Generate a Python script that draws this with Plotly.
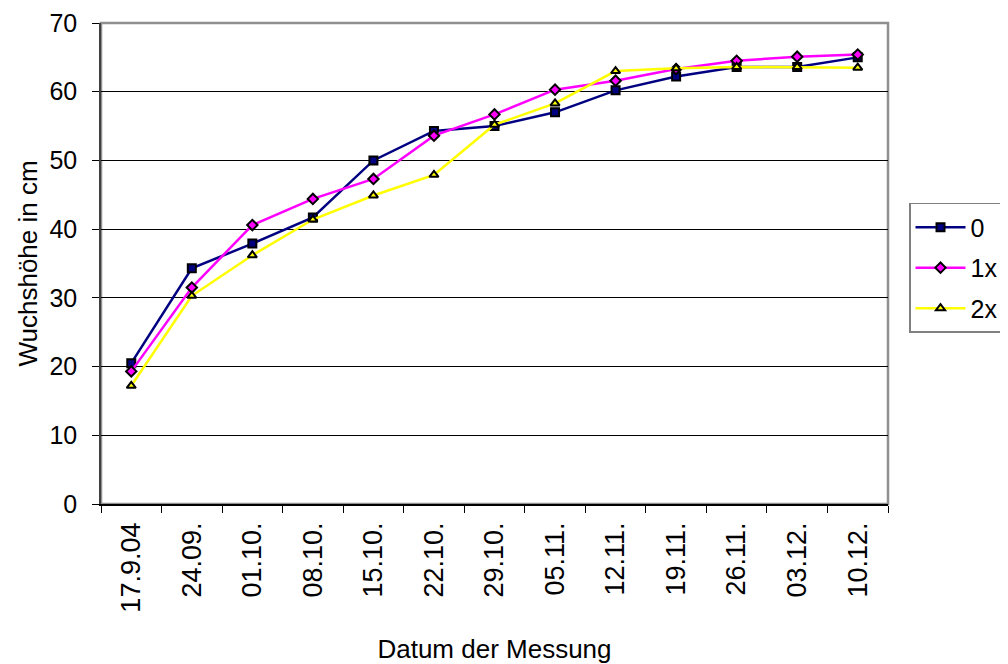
import plotly.graph_objects as go

# Messtermine
dates = ['17.9.04', '24.09.', '01.10.', '08.10.', '15.10.', '22.10.', '29.10.',
         '05.11.', '12.11.', '19.11.', '26.11.', '03.12.', '10.12.']

# Wuchshöhe in cm je Variante
h_0 = [20.5, 34.3, 37.9, 41.7, 50.0, 54.3, 55.0, 57.0, 60.2, 62.2, 63.6, 63.6, 65.0]
h_1x = [19.3, 31.5, 40.6, 44.4, 47.3, 53.6, 56.7, 60.3, 61.6, 63.3, 64.5, 65.1, 65.4]
h_2x = [17.2, 30.3, 36.2, 41.4, 44.9, 47.9, 55.2, 58.3, 63.0, 63.4, 63.6, 63.6, 63.5]

series = [
    ('0', h_0, '#000080', 'square', 8),
    ('1x', h_1x, '#FF00FF', 'diamond', 8),
    ('2x', h_2x, '#FFFF00', 'triangle-up', 8),
]

fig = go.Figure()
for name, vals, col, sym, size in series:
    fig.add_trace(go.Scatter(
        x=dates, y=vals, name=name, mode='lines+markers',
        legendgroup=name,
        line=dict(color=col, width=2.5),
        marker=dict(symbol=sym, size=size, color=col,
                    line=dict(color='black', width=2)),
    ))

# Seite hat 8px Rand im Browser -> Figur etwas kleiner
fig.update_layout(
    width=1000, height=656,
    paper_bgcolor='white', plot_bgcolor='white',
    font=dict(family='Liberation Sans, Arial', size=25, color='black'),
    margin=dict(l=93, r=120, t=15, b=160, autoexpand=False),
    legend=dict(
        x=1.0267, y=0.626, xanchor='left', yanchor='top',
        bordercolor='#808080', borderwidth=1.5,
        font=dict(size=25), itemwidth=50,
        traceorder='grouped', tracegroupgap=5,
    ),
)

fig.update_xaxes(
    type='category', range=[-0.5, 12.5], tickangle=-90,
    tickson='boundaries', ticks='outside', ticklen=7, tickcolor='black',
    tickfont=dict(size=27), ticklabelstandoff=6,
    showline=True, linecolor='black', linewidth=1.5, mirror=False,
    showgrid=False, automargin=False,
    title=dict(text='Datum der Messung', standoff=28, font=dict(size=26)),
)

fig.update_yaxes(
    range=[0, 70], dtick=10, ticks='outside', ticklen=7, tickcolor='black',
    tickfont=dict(size=25), ticklabelstandoff=10,
    showline=True, linecolor='#404040', linewidth=1.5,
    showgrid=True, gridcolor='black', gridwidth=1,
    zeroline=False, automargin=False,
    title=dict(text='Wuchshöhe in cm', standoff=4, font=dict(size=26)),
)

# grauer Rahmen oben/rechts um die Zeichenfläche
fig.add_shape(type='rect', xref='paper', yref='paper', x0=0, x1=1, y0=0, y1=1,
              line=dict(color='#909090', width=2.5), layer='below')

fig.write_html('out.html')
